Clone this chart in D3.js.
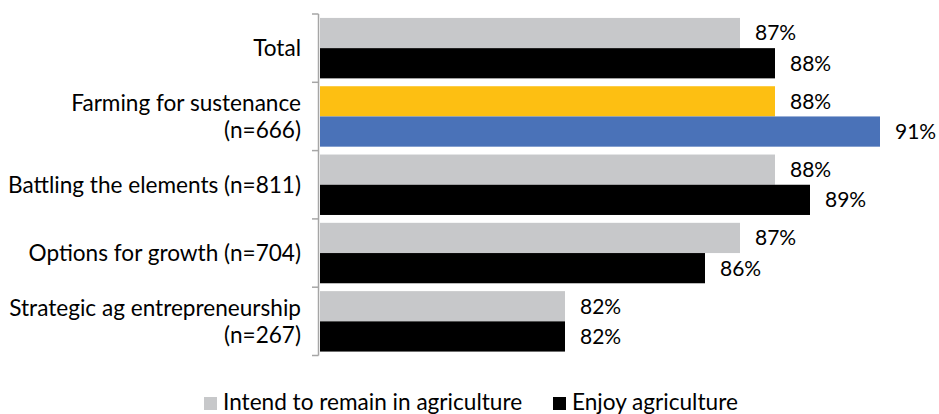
<!DOCTYPE html>
<html>
<head>
<meta charset="utf-8">
<script src="https://cdn.jsdelivr.net/npm/d3@7"></script>
<style>
  html, body { margin: 0; padding: 0; background: #fff; }
  svg { display: block; }
  text { font-family: Lato, "Open Sans", sans-serif; fill: #000; }
</style>
</head>
<body>
<svg id="chart" width="939" height="414"></svg>
<script>
// ---- data ----
const categories = [
  ["Total"],
  ["Farming for sustenance", "(n=666)"],
  ["Battling the elements (n=811)"],
  ["Options for growth (n=704)"],
  ["Strategic ag entrepreneurship", "(n=267)"]
];
const intendValues = [87, 88, 88, 87, 82];
const enjoyValues  = [88, 91, 89, 86, 82];
const seriesNames  = ["Intend to remain in agriculture", "Enjoy agriculture"];
const highlightIndex = 1;

// ---- styles ----
const colIntend = "#C7C8CA";
const colEnjoy = "#000000";
const colHiIntend = "#FDBF12";
const colHiEnjoy = "#4A72B8";
const axisColor = "#A6A6A6";

const svg = d3.select("#chart");

const x = d3.scaleLinear().domain([75, 100]).range([320, 320 + 25 * 35]);
const y = d3.scaleBand().domain(d3.range(categories.length)).range([14, 355.5]);
const inner = d3.scaleBand().domain([0, 1]).range([0, y.bandwidth()]).paddingOuter(0.13).paddingInner(0);

const rows = categories.map((c, i) => ({ i, lines: c, vals: [intendValues[i], enjoyValues[i]] }));

// bars
const g = svg.append("g");
rows.forEach(r => {
  r.vals.forEach((v, s) => {
    let fill = s === 0 ? colIntend : colEnjoy;
    if (r.i === highlightIndex) fill = s === 0 ? colHiIntend : colHiEnjoy;
    const y0 = y(r.i) + inner(s);
    g.append("rect")
      .attr("x", x(75))
      .attr("y", y0)
      .attr("width", x(v) - x(75))
      .attr("height", inner.bandwidth())
      .attr("fill", fill);
    g.append("text")
      .attr("x", x(v) + 15)
      .attr("y", y0 + inner.bandwidth() / 2)
      .attr("dy", "0.35em")
      .attr("font-size", 21)
      .text(v + "%");
  });
});

// axis line and ticks at band boundaries
const axisX = 318.5;
const ax = svg.append("g");
ax.append("line")
  .attr("x1", axisX).attr("x2", axisX)
  .attr("y1", y.range()[0]).attr("y2", y.range()[1])
  .attr("stroke", axisColor).attr("stroke-width", 1.5);
const bounds = d3.range(categories.length + 1).map(k => y.range()[0] + k * y.step());
ax.selectAll("line.tick").data(bounds).join("line")
  .attr("class", "tick")
  .attr("x1", axisX - 6.5).attr("x2", axisX)
  .attr("y1", d => d).attr("y2", d => d)
  .attr("stroke", axisColor).attr("stroke-width", 1.5);

// category labels
const lineH = 27;
rows.forEach(r => {
  const cy = y(r.i) + y.bandwidth() / 2;
  const n = r.lines.length;
  r.lines.forEach((ln, k) => {
    svg.append("text")
      .attr("x", 301)
      .attr("y", cy + (k - (n - 1) / 2) * lineH)
      .attr("dy", "0.35em")
      .attr("text-anchor", "end")
      .attr("font-size", 22.6)
      .text(ln);
  });
});

// legend
const legY = 403.5;
const leg = [
  { name: seriesNames[0], color: colIntend, x: 204 },
  { name: seriesNames[1], color: colEnjoy, x: 553 }
];
leg.forEach(l => {
  svg.append("rect")
    .attr("x", l.x).attr("y", legY - 6.5)
    .attr("width", 13).attr("height", 13)
    .attr("fill", l.color);
  svg.append("text")
    .attr("x", l.x + 19).attr("y", 409.5)
    .attr("font-size", 22.6)
    .text(l.name);
});
</script>
</body>
</html>
